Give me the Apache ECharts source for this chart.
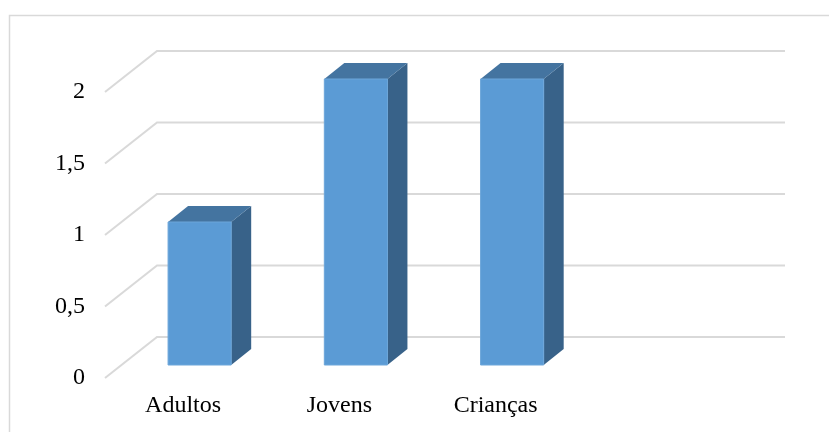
<!DOCTYPE html>
<html>
<head>
<meta charset="utf-8">
<script src="https://cdn.jsdelivr.net/npm/echarts@6/dist/echarts.min.js"></script>
<style>
  html, body { margin: 0; padding: 0; background: #fff; }
  #chart { width: 829px; height: 432px; }
</style>
</head>
<body>
<div id="chart"></div>
<script>
// categories (4th slot is empty in the original)
const categories = ['Adultos', 'Jovens', 'Crianças', ''];
const values = [1, 2, 2];
const yTicks = [0, 0.5, 1, 1.5, 2];

// perspective offsets
const WALL_DX = 52, WALL_DY = -41;   // front plane -> back wall
const BAR_DX = 16.5, BAR_DY = -13;   // front plane -> bar front face
const TOP_DX = 20, TOP_DY = -16;     // bar depth

const chart = echarts.init(document.getElementById('chart'));

const gridLines = (params, api) => {
  let v = api.value(1);
  let c = api.coord([0, v]);
  let w = api.size([1, 0])[0];
  let left = c[0] - w / 2;
  let right = left + w * categories.length + 3;
  return {
    type: 'polyline',
    shape: {
      points: [
        [left, c[1]],
        [left + WALL_DX, c[1] + WALL_DY],
        [right + WALL_DX, c[1] + WALL_DY]
      ]
    },
    style: { stroke: '#D9D9D9', lineWidth: 2, fill: null },
    silent: true
  };
};

const bar3d = (params, api) => {
  let i = api.value(0);
  let top = api.coord([i, api.value(1)]);
  let base = api.coord([i, 0]);
  let w = api.size([1, 0])[0] * 0.404;
  let x1 = top[0] - w / 2 + BAR_DX;
  let x2 = x1 + w;
  let yT = top[1] + BAR_DY;
  let yB = base[1] + BAR_DY;
  return {
    type: 'group',
    children: [
      {
        type: 'polygon',
        shape: { points: [[x2, yT], [x2 + TOP_DX, yT + TOP_DY], [x2 + TOP_DX, yB + TOP_DY], [x2, yB]] },
        style: { fill: '#386289' }
      },
      {
        type: 'polygon',
        shape: { points: [[x1, yT], [x1 + TOP_DX, yT + TOP_DY], [x2 + TOP_DX, yT + TOP_DY], [x2, yT]] },
        style: { fill: '#4474A0' }
      },
      {
        type: 'rect',
        shape: { x: x1, y: yT, width: w, height: yB - yT },
        style: { fill: '#5B9BD5', stroke: '#6CA6DA', lineWidth: 1 }
      }
    ]
  };
};

chart.setOption({
  animation: false,
  backgroundColor: '#fff',
  graphic: [{
    type: 'rect',
    shape: { x: 9.5, y: 15.5, width: 900, height: 500 },
    style: { fill: null, stroke: '#D9D9D9', lineWidth: 1.5 },
    silent: true
  }],
  grid: { left: 105, right: 99, top: 92, bottom: 54 },
  xAxis: {
    type: 'category',
    data: categories,
    axisLine: { show: false },
    axisTick: { show: false },
    splitLine: { show: false },
    axisLabel: {
      margin: 16,
      fontSize: 24,
      fontFamily: 'Liberation Serif',
      color: '#000'
    }
  },
  yAxis: {
    type: 'value',
    min: 0,
    max: 2,
    interval: 0.5,
    axisLine: { show: false },
    axisTick: { show: false },
    splitLine: { show: false },
    axisLabel: {
      margin: 20,
      fontSize: 24,
      fontFamily: 'Liberation Serif',
      color: '#000',
      formatter: v => String(v).replace('.', ',')
    }
  },
  series: [
    {
      type: 'custom',
      renderItem: gridLines,
      data: yTicks.map(v => [0, v]),
      z: 1
    },
    {
      type: 'custom',
      renderItem: bar3d,
      data: values.map((v, i) => [i, v]),
      z: 2
    }
  ]
});
</script>
</body>
</html>
